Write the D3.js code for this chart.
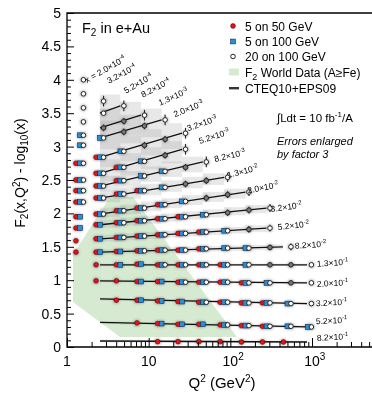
<!DOCTYPE html>
<html><head><meta charset="utf-8">
<script src="https://cdn.jsdelivr.net/npm/d3@7/dist/d3.min.js"></script>
<style>body{margin:0;background:#fff}svg{display:block}text{font-family:"Liberation Sans",Arial,Helvetica,sans-serif}</style>
</head><body><svg id="c" width="372" height="393"></svg>
<script>
// ---------------- DATA ----------------
const qCols = [1.44, 2.54, 4.5, 8.05, 14.4, 25.6, 46, 84, 153, 277, 500, 890];
const xMant = ["2.0","3.2","5.2","8.2","1.3","2.0","3.2","5.2","8.2","1.3","2.0","3.2","5.2","8.2","1.3","2.0","3.2","5.2","8.2"];
const xExp  = ["-4","-4","-4","-4","-3","-3","-3","-3","-3","-2","-2","-2","-2","-2","-1","-1","-1","-1","-1"];
// F2(x,Q2) - log10(x) per x bin, at each Q2 column (null = no point)
const rowValues = [
  [4.00],
  [3.79],
  [3.58,3.68],
  [3.37,3.50,3.61],
  [3.17,3.28,3.38,3.47],
  [3.02,3.13,3.22,3.31,3.40],
  [2.75,2.84,2.93,3.02,3.11,3.20],
  [2.50,2.60,2.69,2.78,2.87,2.96],
  [2.34,2.41,2.49,2.56,2.63,2.69,2.77],
  [2.17,2.23,2.29,2.34,2.39,2.44,2.49,2.54],
  [1.95,1.99,2.04,2.08,2.13,2.18,2.23,2.28,2.32],
  [1.78,1.83,1.86,1.89,1.92,1.95,1.98,2.01,2.05,2.08],
  [1.59,1.62,1.64,1.66,1.68,1.70,1.72,1.74,1.76,1.78],
  [1.42,1.42,1.43,1.44,1.45,1.45,1.47,1.48,1.48,1.49,1.50],
  [null,1.23,1.23,1.24,1.23,1.23,1.23,1.23,1.23,1.23,1.23,1.23],
  [null,0.99,0.99,0.98,0.98,0.97,0.97,0.97,0.96,0.96,0.96,0.96],
  [null,null,0.70,0.70,0.69,0.68,0.67,0.67,0.66,0.66,0.65,0.65],
  [null,null,null,0.36,0.35,0.34,0.34,0.33,0.32,0.31,0.31,0.30],
  [null,null,null,null,0.08,0.08,0.08,0.08,0.075,0.075,0.075]
];
// column ranges [first,last] covered by each beam configuration
const red50Range  = [null,null,null,null,null,null,[0,1],[0,2],[0,2],[0,3],[0,4],[0,5],[0,6],[0,6],[1,7],[1,8],[2,9],[3,9],[4,10]];
const blue100Range= [null,null,null,null,[0,0],[0,1],[0,2],[0,3],[0,4],[0,4],[0,5],[0,6],[1,7],[1,8],[2,8],[3,9],[3,10],[4,11],null];
const open100Range= [[0,0],[0,0],[0,1],[0,2],[0,3],[0,4],[0,5],[0,5],[0,6],[0,7],[1,8],[2,9],[2,9],[3,10],[4,11],[5,11],[6,11],[7,11],null];
// error bars (enlarged x3) for 20 on 100: [open-only points, last point]
const openErr = [[0,0],[0,0],[0,0.08],[0,0.08],[0.05,0.08],[0.05,0.08],[0.05,0.08],[0.05,0.08],[0.05,0.08],[0.05,0.07],[0.05,0.06],[0.05,0.06],[0.05,0.05],[0.04,0.05],[0.03,0],[0.02,0],[0,0],[0,0],[0,0]];
// CTEQ10+EPS09 curves: [[Q2,val],[Q2,val]]
const curves = [null,null,null,
  [[2.54,3.50],[4.5,3.61]],
  [[2.54,3.28],[8.05,3.47]],
  [[2.54,3.13],[14.4,3.40]],
  [[2.54,2.84],[25.6,3.20]],
  [[2.54,2.60],[25.6,2.96]],
  [[2.54,2.41],[46,2.77]],
  [[2.54,2.23],[84,2.54]],
  [[2.54,1.99],[153,2.32]],
  [[2.54,1.83],[277,2.08]],
  [[2.54,1.62],[277,1.78]],
  [[2.54,1.42],[441,1.50]],
  [[2.54,1.23],[868,1.23]],
  [[2.54,0.99],[868,0.96]],
  [[2.54,0.72],[868,0.65]],
  [[2.54,0.37],[868,0.30]],
  [[2.54,0.09],[868,0.075]]
];
// EPS09 uncertainty half-width per x bin
const bandHalf = [0,0,0,0.17,0.2,0.17,0.15,0.12,0.08,0.06,0.05,0.045,0.04,0.035,0.02,0.02,0.02,0.02,0.02];
// F2 world data (A>=Fe) coverage outline [Q2, val]
const worldData = [[3.36,2.245],[1.18,1.377],[1.18,0.674],[4.46,0.150],[120.6,0.150],[6.43,2.245]];
// label anchors [Q2, val, angle]
const labelAt = [[1.76,3.95,-30],[3.27,3.94,-28],[5.28,3.79,-30],[8.52,3.73,-28],[13.8,3.61,-24],[21,3.44,-22],[30.3,3.23,-19],[42.5,3.04,-18],[64.9,2.77,-13],[93.6,2.53,-14],[164.6,2.30,-11],[314.7,2.02,-8],[383,1.75,-6],[619,1.47,-4],[1151,1.20,-4],[1151,0.90,-3],[1119,0.61,-3],[1119,0.34,-3],[1151,0.09,-3]];
const xTicks = [1,10,100,1000];
const xTickExp = ["", "", "2", "3"];
const legendItems = ["5 on 50 GeV","5 on 100 GeV","20 on 100 GeV","World","CTEQ10+EPS09"];

// ---------------- CHART ----------------
const svg = d3.select("#c");
const x = d3.scaleLog().domain([1,1e4]).range([67,393.7]);
const y = d3.scaleLinear().domain([0,5]).range([347,13]);
const RED="#e3131b", BLUE="#2b8fd6";
const dodge = {red:-4, blue:0, open:3.5};

const defs = svg.append("defs");
defs.append("filter").attr("id","blur").attr("x","-50%").attr("y","-50%").attr("width","200%").attr("height","200%")
  .append("feGaussianBlur").attr("stdDeviation",1.1);

// green world data region
svg.append("path").attr("d", d3.line().x(d=>x(d[0])).y(d=>y(d[1]))(worldData)+"Z")
  .attr("fill","#d5ead0");

// gray uncertainty bands (stepped per Q2 bin)
const gBand = svg.append("g");
curves.forEach((c,i)=>{
  if(!c || !bandHalf[i]) return;
  const [[q0,v0],[q1,v1]] = c;
  const lv = q => v0 + (v1-v0)*(Math.log(q/q0)/Math.log(q1/q0));
  const edges = qCols.filter(q=>q>=q0*0.999 && q<=q1*1.001);
  if(edges[edges.length-1] < q1*0.999) edges.push(q1);
  for(let k=0;k<edges.length-1;k++){
    const a=edges[k], b=edges[k+1];
    const lo=Math.min(lv(a),lv(b))-bandHalf[i], hi=Math.max(lv(a),lv(b))+bandHalf[i];
    gBand.append("rect").attr("x",x(a)).attr("width",x(b)-x(a)).attr("y",y(hi)).attr("height",y(lo)-y(hi))
      .attr("fill","#9a9a9a").attr("opacity",0.23);
  }
});

// collect points
function pts(ranges, key){
  const out=[];
  ranges.forEach((r,i)=>{ if(!r) return;
    for(let c=r[0];c<=r[1];c++){ const v=rowValues[i][c]; if(v==null) continue;
      out.push({row:i,col:c,q:qCols[c],v:v,key:key}); } });
  return out;
}
const redPts=pts(red50Range,"red"), bluePts=pts(blue100Range,"blue"), openPts=pts(open100Range,"open");
const px = d => x(d.q)+dodge[d.key];

// halos
const gHalo = svg.append("g").attr("filter","url(#blur)");
[...redPts,...bluePts,...openPts].forEach(d=>{
  gHalo.append("circle").attr("cx",px(d)).attr("cy",y(d.v)).attr("r",3.6).attr("fill","#7a7a7a").attr("opacity",0.45);
});

// curves
svg.append("g").selectAll("path").data(curves.filter(c=>c)).join("path")
  .attr("d", d3.line().x(d=>x(d[0])).y(d=>y(d[1])))
  .attr("stroke","#111").attr("stroke-width",1.3).attr("fill","none");

// error bars & open circles
const hasBlue = (r,c)=> blue100Range[r] && c>=blue100Range[r][0] && c<=blue100Range[r][1];
const gOpen = svg.append("g");
openPts.forEach(d=>{
  const last = d.col===open100Range[d.row][1];
  const e = last ? openErr[d.row][1] : (hasBlue(d.row,d.col)?0:openErr[d.row][0]);
  if(e>0) gOpen.append("line").attr("x1",px(d)).attr("x2",px(d)).attr("y1",y(d.v-e)).attr("y2",y(d.v+e))
      .attr("stroke","#222").attr("stroke-width",1.1);
});
// red
svg.append("g").selectAll("circle").data(redPts).join("circle")
  .attr("cx",px).attr("cy",d=>y(d.v)).attr("r",2.4).attr("fill",RED).attr("stroke","#5a0505").attr("stroke-width",0.6);
// blue
svg.append("g").selectAll("rect").data(bluePts).join("rect")
  .attr("x",d=>px(d)-2.4).attr("y",d=>y(d.v)-2.4).attr("width",4.8).attr("height",4.8)
  .attr("fill",BLUE).attr("stroke","#0b2b4d").attr("stroke-width",0.6);
// open
openPts.forEach(d=>{
  const last = d.col===open100Range[d.row][1];
  const dark = !last && !hasBlue(d.row,d.col) && openErr[d.row][0]>0;
  gOpen.append("circle").attr("cx",px(d)).attr("cy",y(d.v)).attr("r",2.3)
    .attr("fill",dark?"#777":"#fff").attr("stroke","#222").attr("stroke-width",1);
});
gOpen.raise();

// ---------------- AXES ----------------
const yMinor = d3.range(0,50).map(i=>i/10).filter(v=>Math.round(v*10)%5!==0);
svg.append("g").attr("transform","translate(67,0)")
  .call(d3.axisLeft(y).tickValues(yMinor).tickSize(-4).tickFormat(""))
  .call(g=>g.select(".domain").remove()).selectAll("line").attr("stroke","#000");
const yAx = svg.append("g").attr("transform","translate(67,0)")
  .call(d3.axisLeft(y).tickValues(d3.range(0,11).map(i=>i/2)).tickSize(-7).tickPadding(6)
    .tickFormat(d=>d%1===0?String(d):d.toFixed(1)));
yAx.select(".domain").remove();
yAx.selectAll("line").attr("stroke","#000");
yAx.selectAll("text").attr("font-size",14).attr("fill","#000").attr("font-family","Liberation Sans, Arial, sans-serif");

const xMinor=[]; [1,10,100,1000].forEach(d=>{for(let k=2;k<10;k++) xMinor.push(d*k);});
svg.append("g").attr("transform","translate(0,347)")
  .call(d3.axisBottom(x).tickValues(xMinor).tickSize(-5).tickFormat(""))
  .call(g=>g.select(".domain").remove()).selectAll("line").attr("stroke","#000");
const xAx = svg.append("g").attr("transform","translate(0,347)")
  .call(d3.axisBottom(x).tickValues(xTicks).tickSize(-9).tickFormat(""));
xAx.select(".domain").remove();
xAx.selectAll("line").attr("stroke","#000");
xTicks.forEach((t,i)=>{
  const base = t===1?"1":"10";
  const w = base.length*7.8;
  const tx = svg.append("text").attr("x",x(t)-w/2).attr("y",366).attr("font-size",14);
  tx.append("tspan").text(base);
  if(xTickExp[i]) tx.append("tspan").attr("dy",-6).attr("font-size",10).text(xTickExp[i]);
});

// frame
svg.append("path").attr("d",`M${x(1e4)},${y(5)}H${x(1)}V${y(0)}H${x(1e4)}`)
  .attr("fill","none").attr("stroke","#000").attr("stroke-width",1.3);

// axis titles
const yt = svg.append("text").attr("transform","translate(25,173) rotate(-90)").attr("text-anchor","middle").attr("font-size",14);
yt.append("tspan").text("F");
yt.append("tspan").attr("dy",3).attr("font-size",10).text("2");
yt.append("tspan").attr("dy",-3).text("(x,Q");
yt.append("tspan").attr("dy",-5).attr("font-size",10).text("2");
yt.append("tspan").attr("dy",5).text(") - log");
yt.append("tspan").attr("dy",3).attr("font-size",10).text("10");
yt.append("tspan").attr("dy",-3).text("(x)");

const xt = svg.append("text").attr("x",222).attr("y",388).attr("text-anchor","middle").attr("font-size",15);
xt.append("tspan").text("Q");
xt.append("tspan").attr("dy",-6).attr("font-size",10).text("2");
xt.append("tspan").attr("dy",6).text(" (GeV");
xt.append("tspan").attr("dy",-6).attr("font-size",10).text("2");
xt.append("tspan").attr("dy",6).text(")");

// title
const tt = svg.append("text").attr("x",82).attr("y",33).attr("font-size",14.5);
tt.append("tspan").text("F");
tt.append("tspan").attr("dy",3).attr("font-size",10).text("2");
tt.append("tspan").attr("dy",-3).text(" in e+Au");

// row labels
const gLab = svg.append("g");
labelAt.forEach((a,i)=>{
  const t = gLab.append("text").attr("transform",`translate(${x(a[0])},${y(a[1])}) rotate(${a[2]})`).attr("font-size",8.5);
  t.append("tspan").text((i===0?"x = ":"")+xMant[i]+"\u00d710");
  t.append("tspan").attr("dy",-3.5).attr("font-size",6).text(xExp[i]);
});

// legend
const lg = svg.append("g");
const ly = [26,41.5,56.5,72,88];
lg.append("circle").attr("cx",233).attr("cy",ly[0]).attr("r",2.4).attr("fill",RED).attr("stroke","#5a0505").attr("stroke-width",0.6);
lg.append("rect").attr("x",230.6).attr("y",ly[1]-2.4).attr("width",4.8).attr("height",4.8).attr("fill",BLUE).attr("stroke","#0b2b4d").attr("stroke-width",0.6);
lg.append("circle").attr("cx",233).attr("cy",ly[2]).attr("r",2.3).attr("fill","#fff").attr("stroke","#222");
lg.append("rect").attr("x",229).attr("y",ly[3]-3.5).attr("width",10).attr("height",7).attr("fill","#d5ead0");
lg.append("rect").attr("x",229).attr("y",ly[4]-1).attr("width",10).attr("height",2.4).attr("fill","#333");
legendItems.forEach((s,i)=>{
  const t = lg.append("text").attr("x",245).attr("y",ly[i]+4.5).attr("font-size",12);
  if(s==="World"){
    t.append("tspan").text("F");
    t.append("tspan").attr("dy",3).attr("font-size",9).text("2");
    t.append("tspan").attr("dy",-3).text(" World Data (A\u2265Fe)");
  } else t.text(s);
});
const lum = svg.append("text").attr("x",277).attr("y",122).attr("font-size",11.5);
lum.append("tspan").text("\u222bLdt = 10 fb");
lum.append("tspan").attr("dy",-5).attr("font-size",8).text("-1");
lum.append("tspan").attr("dy",5).text("/A");
svg.append("text").attr("x",277).attr("y",145).attr("font-size",11).attr("font-style","italic").text("Errors enlarged");
svg.append("text").attr("x",277).attr("y",158).attr("font-size",11).attr("font-style","italic").text("by factor 3");
</script></body></html>
